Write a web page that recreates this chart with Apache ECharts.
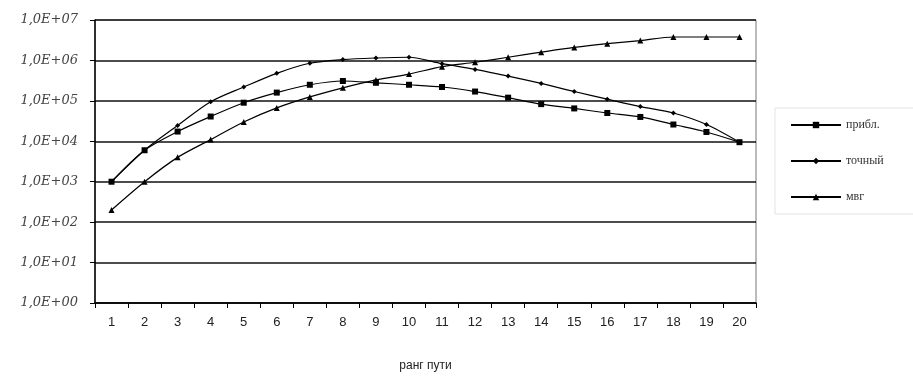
<!DOCTYPE html>
<html>
<head>
<meta charset="utf-8">
<script src="https://cdn.jsdelivr.net/npm/echarts@6/dist/echarts.min.js"></script>
<style>
html,body{margin:0;padding:0;background:#fff;}
#c{width:913px;height:378px;}
</style>
</head>
<body>
<div id="c"></div>
<script>
const categories = ['1','2','3','4','5','6','7','8','9','10','11','12','13','14','15','16','17','18','19','20'];
const pribl  = [1000, 6000, 17400, 41000, 90000, 160000, 250000, 310000, 280000, 250000, 220000, 170000, 120000, 83000, 65000, 50000, 40000, 26000, 17000, 9500];
const tochny = [1000, 6000, 24500, 95000, 220000, 480000, 850000, 1050000, 1150000, 1200000, 830000, 600000, 410000, 270000, 170000, 110000, 72000, 50000, 26000, 9500];
const mvg    = [200, 1000, 4000, 11000, 30000, 67000, 125000, 210000, 330000, 460000, 700000, 900000, 1200000, 1600000, 2100000, 2600000, 3100000, 3800000, 3800000, 3800000];
const seriesNames = ['прибл.', 'точный', 'мвг'];
const yTickLabels = ['1,0E+00','1,0E+01','1,0E+02','1,0E+03','1,0E+04','1,0E+05','1,0E+06','1,0E+07'];
const xAxisTitle = 'ранг пути';

const chart = echarts.init(document.getElementById('c'), null, {renderer:'canvas'});
const lineStyle = {color:'#000', width:1.2};
chart.setOption({
  animation:false,
  backgroundColor:'#fff',
  grid:{left:95, right:157, top:20, bottom:75, show:true, borderColor:'#777', borderWidth:1},
  legend:{
    orient:'vertical', left:775, top:108,
    padding:[11,60,11,15],
    itemGap:24, itemWidth:50, itemHeight:8,
    borderColor:'#e3e3e3', borderWidth:1,
    textStyle:{fontFamily:'Liberation Serif', fontSize:12, color:'#333'},
    data:seriesNames
  },
  xAxis:{
    type:'category', data:categories, boundaryGap:true,
    name:xAxisTitle, nameLocation:'middle', nameGap:57,
    nameTextStyle:{fontFamily:'Liberation Sans', fontSize:12, color:'#222'},
    axisLine:{lineStyle:{color:'#000', width:1.5}},
    axisTick:{show:true, inside:false, length:5, alignWithLabel:false, lineStyle:{color:'#000'}},
    axisLabel:{fontFamily:'Liberation Sans', fontSize:13, color:'#222', margin:13}
  },
  yAxis:{
    type:'log', logBase:10, min:1, max:10000000,
    axisLine:{show:true, lineStyle:{color:'#000', width:1.5}},
    axisTick:{show:true, length:5, lineStyle:{color:'#000'}},
    minorTick:{show:false},
    splitLine:{show:true, lineStyle:{color:'#111', width:1.5}},
    axisLabel:{
      fontFamily:'DejaVu Serif', fontStyle:'italic', fontSize:13, color:'#444', margin:17,
      formatter:function(v){ const e=Math.round(Math.log10(v)); return yTickLabels[e] || ''; }
    }
  },
  series:[
    {name:seriesNames[0], type:'line', data:pribl, smooth:0.3, symbol:'rect', symbolSize:6,
     lineStyle:lineStyle, itemStyle:{color:'#000'}},
    {name:seriesNames[1], type:'line', data:tochny, smooth:0.3, symbol:'diamond', symbolSize:5,
     lineStyle:lineStyle, itemStyle:{color:'#000'}},
    {name:seriesNames[2], type:'line', data:mvg, smooth:0.3, symbol:'triangle', symbolSize:6,
     lineStyle:lineStyle, itemStyle:{color:'#000'}}
  ]
});
</script>
</body>
</html>
